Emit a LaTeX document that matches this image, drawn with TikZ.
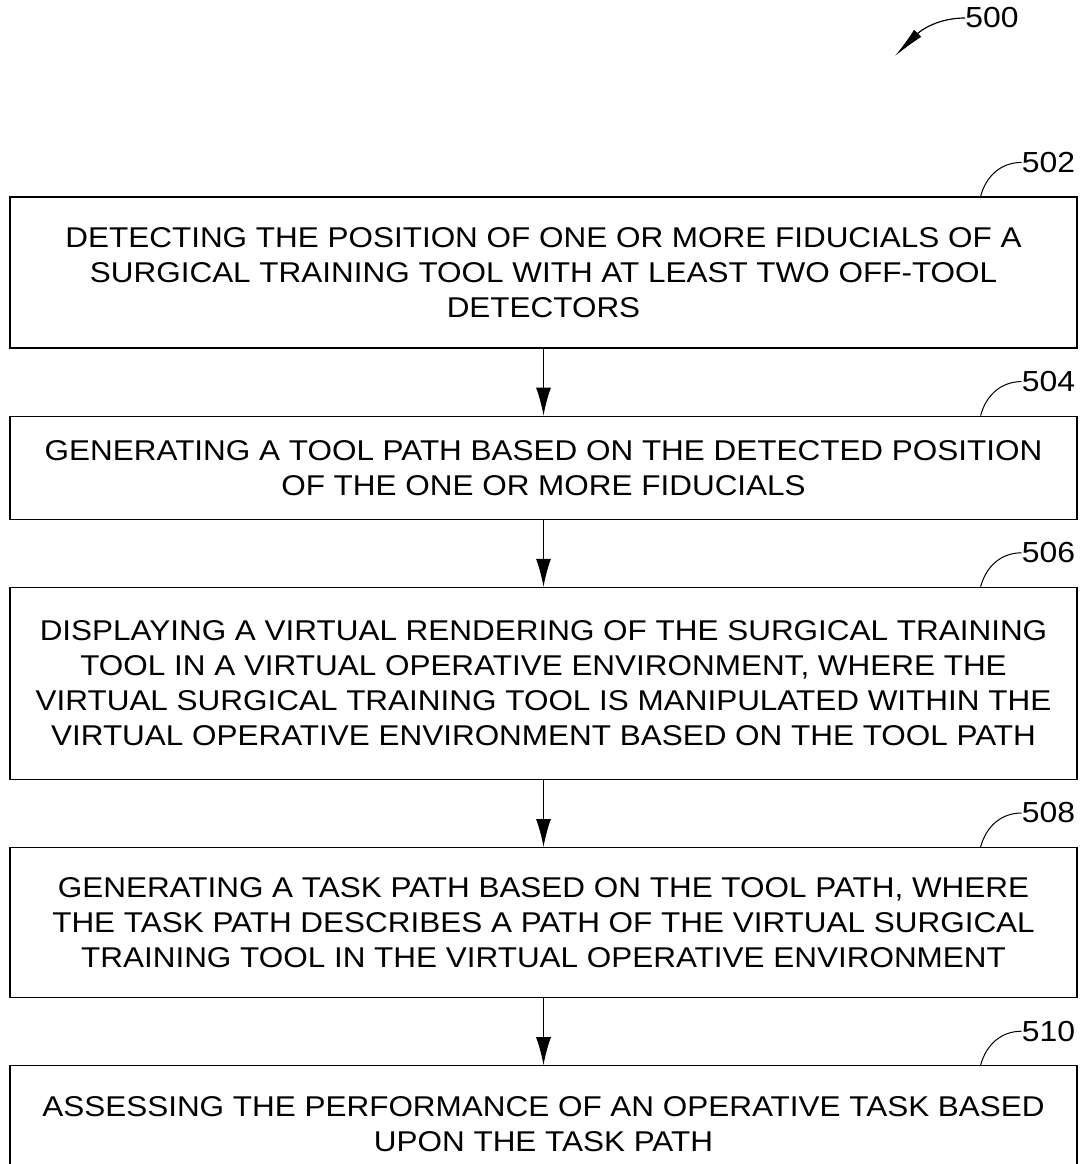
\documentclass[tikz,border=0pt]{standalone}
\usepackage{fontspec}
\setmainfont{Liberation Sans}[FakeStretch=1.1]
\usetikzlibrary{arrows.meta,positioning,calc}

\begin{document}
\begin{tikzpicture}[x=1pt,y=1pt,
    stepbox/.style={draw, line width=0.6pt, minimum width=533.5pt, inner sep=0pt,
        align=center, font=\fontsize{14.3}{17.5}\selectfont},
    flow/.style={-{Latex[length=14pt,width=7.5pt]}, line width=0.6pt},
    refnum/.style={font=\fontsize{14.5}{18}\selectfont, inner sep=0pt},
    leader/.style={line width=0.5pt}]
    \useasboundingbox (0,0) rectangle (541,-582);

    % figure number
    \node[refnum] (n500) at (496,-9) {500};
    \coordinate (tip500) at (447.5,-28);
    \draw[line width=0.6pt, -{Latex[length=16pt,width=5pt]}] (n500.west) to[out=180,in=45] (tip500);

    % steps
    \node[stepbox, minimum height=75.5pt] (b502) at (271.75,-136.25)
        {DETECTING THE POSITION OF ONE OR MORE FIDUCIALS OF A\\
         SURGICAL TRAINING TOOL WITH AT LEAST TWO OFF-TOOL\\
         DETECTORS};
    \node[stepbox, minimum height=51.5pt, below=33.5pt of b502] (b504)
        {GENERATING A TOOL PATH BASED ON THE DETECTED POSITION\\
         OF THE ONE OR MORE FIDUCIALS};
    \node[stepbox, minimum height=96pt, below=33.5pt of b504] (b506)
        {DISPLAYING A VIRTUAL RENDERING OF THE SURGICAL TRAINING\\
         TOOL IN A VIRTUAL OPERATIVE ENVIRONMENT, WHERE THE\\
         VIRTUAL SURGICAL TRAINING TOOL IS MANIPULATED WITHIN THE\\
         VIRTUAL OPERATIVE ENVIRONMENT BASED ON THE TOOL PATH};
    \node[stepbox, minimum height=75pt, below=33.5pt of b506] (b508)
        {GENERATING A TASK PATH BASED ON THE TOOL PATH, WHERE\\
         THE TASK PATH DESCRIBES A PATH OF THE VIRTUAL SURGICAL\\
         TRAINING TOOL IN THE VIRTUAL OPERATIVE ENVIRONMENT};
    \node[stepbox, minimum height=58.5pt, below=33.5pt of b508] (b510)
        {ASSESSING THE PERFORMANCE OF AN OPERATIVE TASK BASED\\
         UPON THE TASK PATH};

    % arrows between steps
    \foreach \a/\b in {b502/b504, b504/b506, b506/b508, b508/b510}
        \draw[flow] (\a) -- (\b);

    % reference numerals
    \foreach \n in {502,504,506,508,510} {
        \node[refnum] (l\n) at ($(b\n.north east)+(-14.5,17)$) {\n};
        \coordinate (c\n) at ($(b\n.north east)+(-48.5,0)$);
        \draw[leader] (l\n.west) to[out=180,in=75] (c\n);
    }
\end{tikzpicture}
\end{document}
